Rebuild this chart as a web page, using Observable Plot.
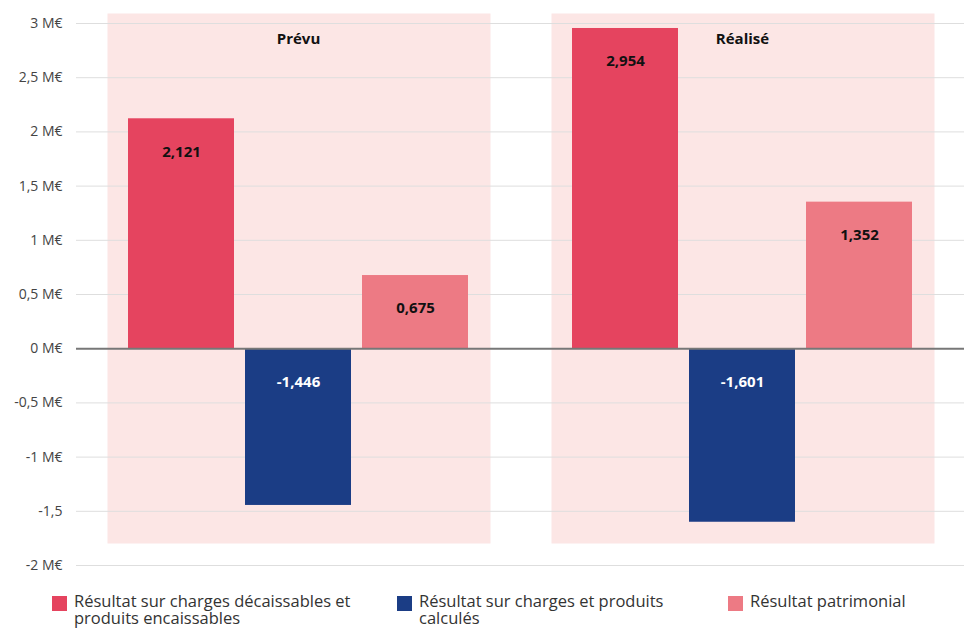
<!DOCTYPE html>
<html>
<head>
<meta charset="utf-8">
<script src="https://cdn.jsdelivr.net/npm/d3@7"></script>
<script src="https://cdn.jsdelivr.net/npm/@observablehq/plot@0.6"></script>
<style>
  html, body { margin: 0; padding: 0; background: #fff; }
  body { width: 966px; height: 629px; overflow: hidden; font-family: "Open Sans", sans-serif; }
  #chart svg { display: block; }
  #legend { position: relative; height: 49px; }
  .item { position: absolute; top: 13px; display: flex; align-items: flex-start; font-size: 16.5px; line-height: 16.5px; color: #333; }
  .sw { width: 15px; height: 15px; flex: none; margin-right: 7px; margin-top: 3px; }
</style>
</head>
<body>
<div id="chart"></div>
<div id="legend"></div>
<script>
const groups = ["Prévu", "Réalisé"];
const series = [
  "Résultat sur charges décaissables et produits encaissables",
  "Résultat sur charges et produits calculés",
  "Résultat patrimonial"
];
const prevuValues = [2.121, -1.446, 0.675];
const realiseValues = [2.954, -1.601, 1.352];
const colors = ["#e5445f", "#1b3d85", "#ed7a84"];
const labelColors = ["#111", "#fff", "#111"];
const yTicks = [-2, -1.5, -1, -0.5, 0, 0.5, 1, 1.5, 2, 2.5, 3];
const yTickLabels = ["-2 M€", "-1,5", "-1 M€", "-0,5 M€", "0 M€", "0,5 M€", "1 M€", "1,5 M€", "2 M€", "2,5 M€", "3 M€"];

const data = [];
groups.forEach((g, gi) => {
  const vals = gi === 0 ? prevuValues : realiseValues;
  series.forEach((s, si) => data.push({group: g, series: s, value: vals[si]}));
});
const locale = d3.formatLocale({decimal: ",", thousands: " ", grouping: [3], currency: ["", " €"], minus: "-"});
const fmt = locale.format(".3f");
const tickLabel = v => yTickLabels[yTicks.indexOf(v)];

const plot = Plot.plot({
  width: 966,
  height: 580,
  marginLeft: 76,
  marginRight: 2,
  marginTop: 23,
  marginBottom: 15,
  style: {fontFamily: "Open Sans, sans-serif", background: "#fff"},
  fx: {domain: groups, axis: null, paddingInner: 0, paddingOuter: 0},
  x: {domain: series, axis: null, paddingInner: 0.098, paddingOuter: 0.438},
  y: {domain: [-2, 3], axis: null},
  color: {domain: series, range: colors},
  marks: [
    Plot.frame({fill: "#fce6e5", stroke: null, insetLeft: 31, insetRight: 30, insetTop: -10, insetBottom: 22}),
    Plot.ruleY(yTicks.filter(d => d !== 0), {stroke: "#dedede", strokeWidth: 1}),
    Plot.axisY({ticks: yTicks, tickFormat: tickLabel, tickSize: 0, tickPadding: 14, fontSize: 14, color: "#444", label: null}),
    Plot.barY(data, {fx: "group", x: "series", y: "value", fill: "series"}),
    Plot.ruleY([0], {stroke: "#777", strokeWidth: 2}),
    Plot.text(data, {fx: "group", x: "series", y: d => Math.max(0, d.value), text: d => fmt(d.value),
      dy: 33, fontSize: 15, fontWeight: "bold",
      fill: d => labelColors[series.indexOf(d.series)]}),
    Plot.text(groups, {fx: d => d, frameAnchor: "top", dy: 10, text: d => d, fontSize: 15, fontWeight: "bold", fill: "#111"})
  ]
});
document.getElementById("chart").appendChild(plot);

const legend = document.getElementById("legend");
const lefts = [52, 397, 728];
const widths = [300, 285, 220];
series.forEach((s, i) => {
  const it = document.createElement("div");
  it.className = "item";
  it.style.left = lefts[i] + "px";
  it.style.width = widths[i] + "px";
  it.innerHTML = `<span class="sw" style="background:${colors[i]}"></span><span>${s}</span>`;
  legend.appendChild(it);
});
</script>
</body>
</html>
